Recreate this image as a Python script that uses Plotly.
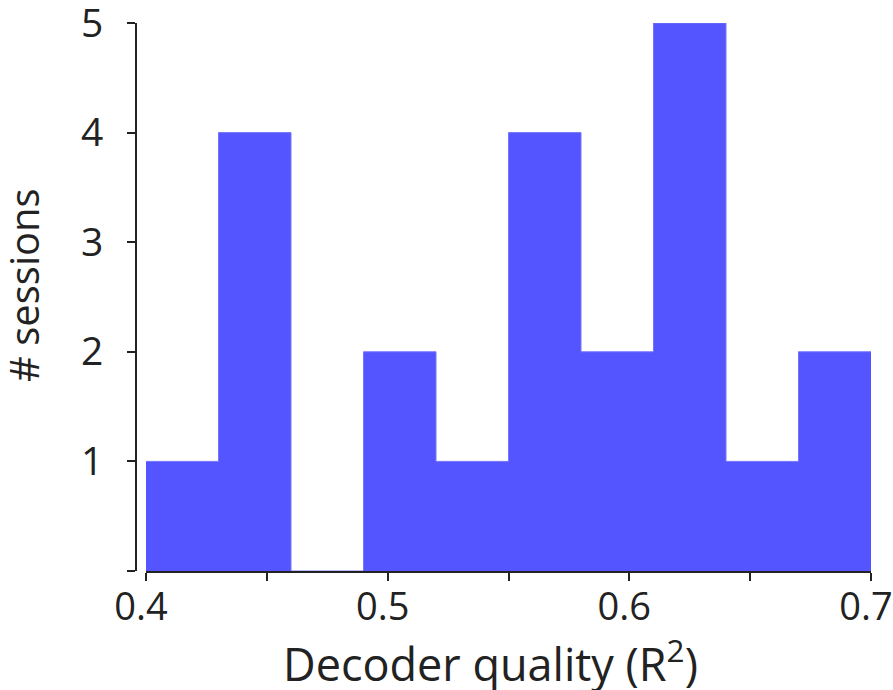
import plotly.graph_objects as go

# Histogram data
bin_edges = [0.40, 0.43, 0.46, 0.49, 0.52, 0.55, 0.58, 0.61, 0.64, 0.67, 0.70]
counts = [1, 4, 0, 2, 1, 4, 2, 5, 1, 2]

x_tickvals = [0.40, 0.45, 0.50, 0.55, 0.60, 0.65, 0.70]
x_ticktext = ["0.4", "", "0.5", "", "0.6", "", "0.7"]
y_tickvals = [0, 1, 2, 3, 4, 5]
y_ticktext = ["", "1", "2", "3", "4", "5"]

# step outline of the histogram (last count repeated to close the final bin)
step_x = bin_edges
step_y = counts + [counts[-1]]

W, H = 893, 690
L, R, T, B = 136, W - 871, 23, H - 571
pw = W - L - R
ph = H - T - B
x0_frac = (146 - L) / pw

FONT = "Open Sans"
TXT = "#222222"
BAR = "#5555FF"

fig = go.Figure()
fig.add_trace(go.Scatter(
    x=step_x, y=step_y, mode="lines",
    line=dict(shape="hv", width=1, color="#7474ff"),
    fill="tozeroy", fillcolor=BAR,
    hoverinfo="x+y",
))

fig.update_layout(
    width=W, height=H,
    margin=dict(l=L, r=R, t=T, b=B, pad=0, autoexpand=False),
    plot_bgcolor="white", paper_bgcolor="white",
    showlegend=False,
    font=dict(family=FONT, color=TXT),
    xaxis=dict(
        domain=[x0_frac, 1], range=[0.40, 0.70],
        tickmode="array", tickvals=x_tickvals, ticktext=x_ticktext,
        ticks="outside", ticklen=8, tickwidth=2, tickcolor=TXT,
        showline=True, linewidth=2, linecolor=TXT,
        showgrid=False, zeroline=False, automargin=False,
        tickfont=dict(size=38, family=FONT, color=TXT),
        ticklabelstandoff=-7, ticklabelshift=-5, ticklabeloverflow="allow",
    ),
    yaxis=dict(
        anchor="free", position=0, range=[0, 5],
        tickmode="array", tickvals=y_tickvals, ticktext=y_ticktext,
        ticks="outside", ticklen=8, tickwidth=2, tickcolor=TXT,
        showline=True, linewidth=2, linecolor=TXT,
        showgrid=False, zeroline=False, automargin=False,
        tickfont=dict(size=39, family=FONT, color=TXT),
        ticklabelstandoff=16, ticklabeloverflow="allow",
    ),
    annotations=[
        dict(text="Decoder quality (R<sup>2</sup>)", xref="paper", yref="paper",
             x=(490 - L) / pw, y=(571 - 661) / ph, xanchor="center", yanchor="middle",
             showarrow=False, font=dict(size=45, family=FONT, color=TXT)),
        dict(text="# sessions", xref="paper", yref="paper",
             x=(23 - L) / pw, y=1 - (285 - T) / ph,
             xanchor="center", yanchor="middle", textangle=-90,
             showarrow=False, font=dict(size=40, family=FONT, color=TXT)),
    ],
)

fig.write_html("out.html", config={"displayModeBar": False},
               post_script="document.body.style.margin='0';document.body.style.overflow='hidden';")
